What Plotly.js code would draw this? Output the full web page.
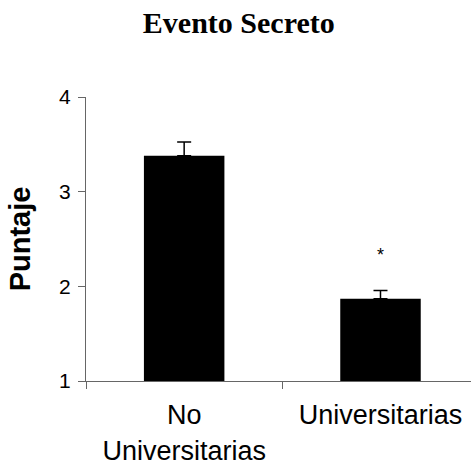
<!DOCTYPE html>
<html>
<head>
<meta charset="utf-8">
<script src="https://cdn.plot.ly/plotly-3.0.1.min.js"></script>
<style>html,body{margin:0;padding:0;background:#fff;}#chart{width:471px;height:467px;}</style>
</head>
<body>
<div id="chart"></div>
<script>
var categories = ["No<br>Universitarias", "Universitarias"];
var means = [3.38, 1.87];
var errors = [0.145, 0.085];
var significance = ["", "*"];
var yTicks = [1, 2, 3, 4];

var trace = {
  type: "bar",
  x: categories,
  y: means,
  base: 0,
  marker: {color: "#000000", line: {width: 0}},
  error_y: {type: "data", array: errors, symmetric: false, arrayminus: [0, 0], color: "#000000", thickness: 1.5, width: 7},
  width: 0.41,
  hoverinfo: "none"
};

var annotations = [];
for (var i = 0; i < categories.length; i++) {
  if (significance[i]) {
    annotations.push({
      x: categories[i], y: means[i] + errors[i], xref: "x", yref: "y",
      text: significance[i], showarrow: false, yanchor: "middle", yshift: 36,
      font: {family: "Liberation Sans, Arial, sans-serif", size: 18, color: "#000"}
    });
  }
}

var layout = {
  width: 471, height: 467,
  margin: {l: 86, r: 0, t: 97, b: 86, pad: 0},
  paper_bgcolor: "#ffffff", plot_bgcolor: "#ffffff",
  showlegend: false,
  title: {
    text: "<b>Evento Secreto</b>",
    font: {family: "Liberation Serif, Times New Roman, serif", size: 30, color: "#000"},
    xref: "container", x: 0.507, xanchor: "center",
    yref: "container", y: 0.951, yanchor: "middle"
  },
  xaxis: {
    type: "category",
    range: [-0.5, 1.461],
    showline: true, linecolor: "#666666", linewidth: 1,
    ticks: "outside", tickson: "boundaries", ticklen: 7, tickcolor: "#666666", tickwidth: 1,
    showgrid: false, zeroline: false,
    ticklabelstandoff: 10,
    tickfont: {family: "Liberation Sans, Arial, sans-serif", size: 27, color: "#000"},
    automargin: false
  },
  yaxis: {
    range: [1, 4],
    tickvals: yTicks,
    ticktext: yTicks.map(String),
    showline: true, linecolor: "#666666", linewidth: 1,
    ticks: "outside", ticklen: 7, tickcolor: "#666666", tickwidth: 1,
    showgrid: false, zeroline: false,
    ticklabelstandoff: 3,
    tickfont: {family: "Liberation Sans, Arial, sans-serif", size: 21, color: "#000"},
    title: {text: "<b>Puntaje</b>", standoff: 19, font: {family: "Liberation Sans, Arial, sans-serif", size: 29, color: "#000"}},
    automargin: false
  },
  annotations: annotations
};

Plotly.newPlot("chart", [trace], layout, {displayModeBar: false, staticPlot: true});
</script>
</body>
</html>
